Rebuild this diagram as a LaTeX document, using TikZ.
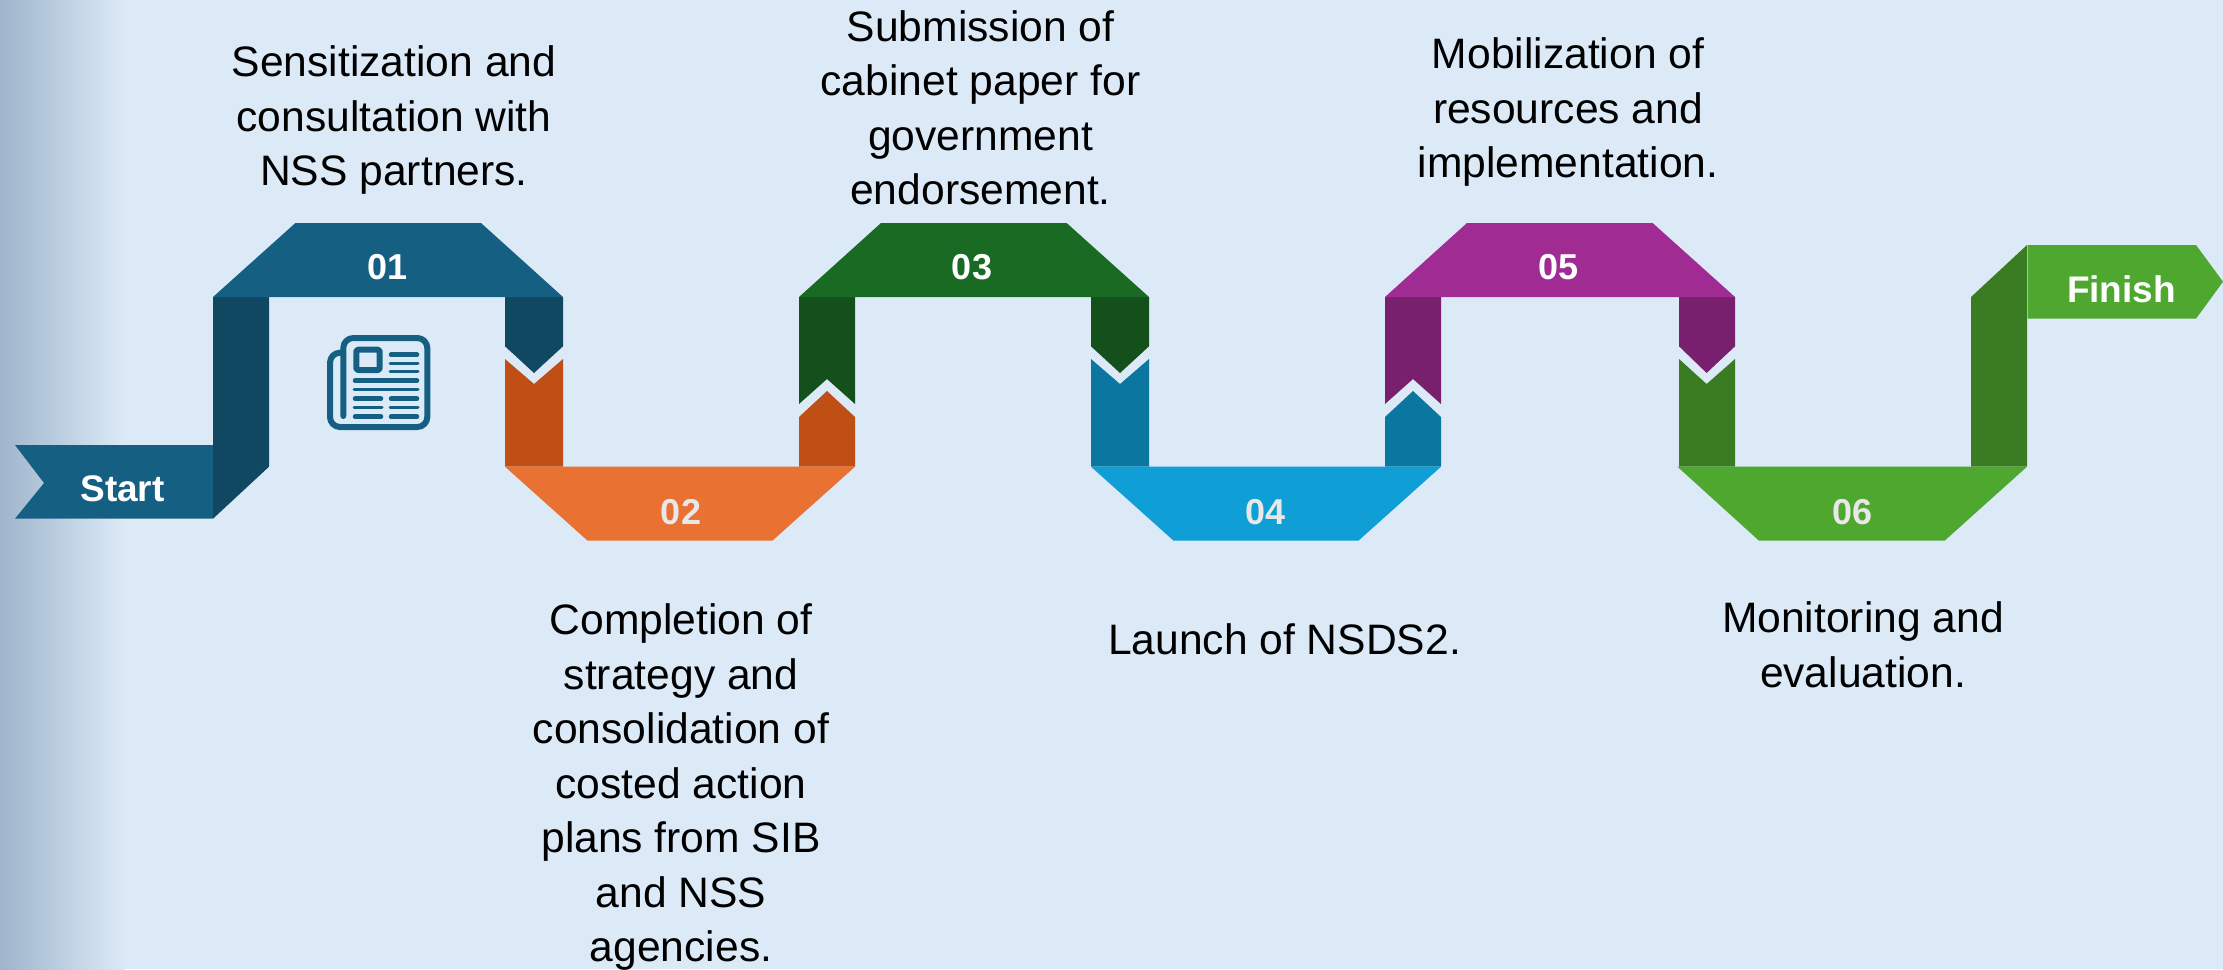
\documentclass[tikz,border=0pt]{standalone}
\usepackage{fontspec}
\setmainfont{Liberation Sans}
\definecolor{bgc}{HTML}{DCEAF7}
\definecolor{edgec}{HTML}{9FB5CC}
\definecolor{tealA}{HTML}{156082}
\definecolor{tealB}{HTML}{104862}
\definecolor{orA}{HTML}{E97132}
\definecolor{orB}{HTML}{C04F15}
\definecolor{grA}{HTML}{196B24}
\definecolor{grB}{HTML}{13501B}
\definecolor{blA}{HTML}{0F9ED5}
\definecolor{blB}{HTML}{0B76A0}
\definecolor{puA}{HTML}{A02B93}
\definecolor{puB}{HTML}{78206E}
\definecolor{lgA}{HTML}{4EA72E}
\definecolor{lgB}{HTML}{3A7C22}
\definecolor{softw}{HTML}{E8E8E8}
\tikzset{
  bodytext/.style={font=\fontsize{42.6}{54.5}\selectfont,align=center,text=black,inner sep=0pt},
  numlabel/.style={font=\fontsize{36}{40}\selectfont\bfseries,text=white,inner sep=0pt},
  endlabel/.style={font=\fontsize{37}{42}\selectfont\bfseries,text=white,inner sep=0pt},
  numsoft/.style={numlabel,text=softw},
  iconline/.style={draw=tealA,line cap=round,line join=round,line width=#1},
}
\begin{document}
\begin{tikzpicture}[x=1pt,y=-1pt]
\useasboundingbox (0,0) rectangle (2223,969);
\fill[bgc] (0,0) rectangle (2223,969);
\shade[left color=edgec,right color=bgc,shading angle=90] (0,0) rectangle (125,969);

% Start ribbon and 01
\fill[tealA] (15,445) -- (213,445) -- (213,518.7) -- (15,518.7) -- (44,483) -- cycle;
\fill[tealB] (213,297) -- (269,297) -- (269,466.7) -- (213,518.7) -- cycle;
\fill[tealB] (505,297) -- (563,297) -- (563,346.3) -- (534,373) -- (505,346.3) -- cycle;
\fill[tealA] (295.4,223) -- (481,223) -- (563,297) -- (213,297) -- cycle;

% 02
\fill[orB] (505,359) -- (534,384) -- (563,359) -- (563,466.7) -- (505,466.7) -- cycle;
\fill[orB] (799,417) -- (827,391) -- (855,417) -- (855,466.7) -- (799,466.7) -- cycle;
\fill[orA] (505,466.7) -- (855,466.7) -- (772.4,540.7) -- (587.6,540.7) -- cycle;

% 03
\fill[grB] (799,297) -- (855,297) -- (855,404) -- (827,379) -- (799,404) -- cycle;
\fill[grB] (1091,297) -- (1149,297) -- (1149,346.3) -- (1120,373) -- (1091,346.3) -- cycle;
\fill[grA] (881,223) -- (1066.6,223) -- (1149,297) -- (799,297) -- cycle;

% 04
\fill[blB] (1091,359) -- (1120,384) -- (1149,359) -- (1149,466.7) -- (1091,466.7) -- cycle;
\fill[blB] (1385,417) -- (1413,391) -- (1441,417) -- (1441,466.7) -- (1385,466.7) -- cycle;
\fill[blA] (1091,466.7) -- (1441,466.7) -- (1358.4,540.7) -- (1173.6,540.7) -- cycle;

% 05
\fill[puB] (1385,297) -- (1441,297) -- (1441,404) -- (1413,379) -- (1385,404) -- cycle;
\fill[puB] (1679,297) -- (1735,297) -- (1735,346.3) -- (1706.6,373) -- (1679,346.3) -- cycle;
\fill[puA] (1467,223) -- (1652.6,223) -- (1735,297) -- (1385,297) -- cycle;

% 06 and Finish
\fill[lgB] (1679,359) -- (1706.6,384) -- (1735,359) -- (1735,466.7) -- (1679,466.7) -- cycle;
\fill[lgB] (1971,297) -- (2027,245) -- (2027,466.7) -- (1971,466.7) -- cycle;
\fill[lgA] (1677.4,466.7) -- (2027,466.7) -- (1944.6,540.7) -- (1759,540.7) -- cycle;
\fill[lgA] (2027.5,245) -- (2196,245) -- (2223,281.7) -- (2196,318.7) -- (2027.5,318.7) -- cycle;

% Ribbon labels
\node[endlabel] (start) at (122.5,488.7) {Start};
\node[numlabel] (n01) at (388,267) {01};
\node[numsoft] (n02) at (681,512) {02};
\node[numlabel] (n03) at (972,267) {03};
\node[numsoft] (n04) at (1265.5,512) {04};
\node[numlabel] (n05) at (1558.5,267) {05};
\node[numsoft] (n06) at (1852,512) {06};
\node[endlabel] (finish) at (2121.5,289) {Finish};

% Descriptions
\node[bodytext] (t1) at (394,120) {Sensitization and\\consultation with\\NSS partners.};
\node[bodytext] (t2) at (681,787) {Completion of\\strategy and\\consolidation of\\costed action\\plans from SIB\\and NSS\\agencies.};
\node[bodytext] (t3) at (980.5,108) {Submission of\\cabinet paper for\\government\\endorsement.};
\node[bodytext] (t4) at (1284.5,639) {Launch of NSDS2.};
\node[bodytext] (t5) at (1568,112) {Mobilization of\\resources and\\implementation.};
\node[bodytext] (t6) at (1863,645) {Monitoring and\\evaluation.};

% Newspaper icon
\draw[iconline=6pt,rounded corners=10pt] (343.3,416) -- (343.3,338) -- (427.3,338) -- (427.3,427) -- (330,427) -- (330,352.7) -- (343.3,352.7);
\draw[iconline=6pt,rounded corners=2pt] (356.3,349.7) rectangle (379.7,370);
\foreach \yy in {354.7,398.7,416.7} \draw[iconline=4.5pt] (391,\yy) -- (417,\yy);
\foreach \yy in {363.7,371.7,407.7} \draw[iconline=3pt] (390,\yy) -- (418,\yy);
\foreach \yy in {398.7,416.7} \draw[iconline=4.5pt] (355,\yy) -- (381,\yy);
\draw[iconline=3pt] (354,407.7) -- (382,407.7);
\draw[iconline=4.5pt] (355,380.7) -- (417,380.7);
\draw[iconline=3pt] (354,389.7) -- (418,389.7);
\end{tikzpicture}
\end{document}
